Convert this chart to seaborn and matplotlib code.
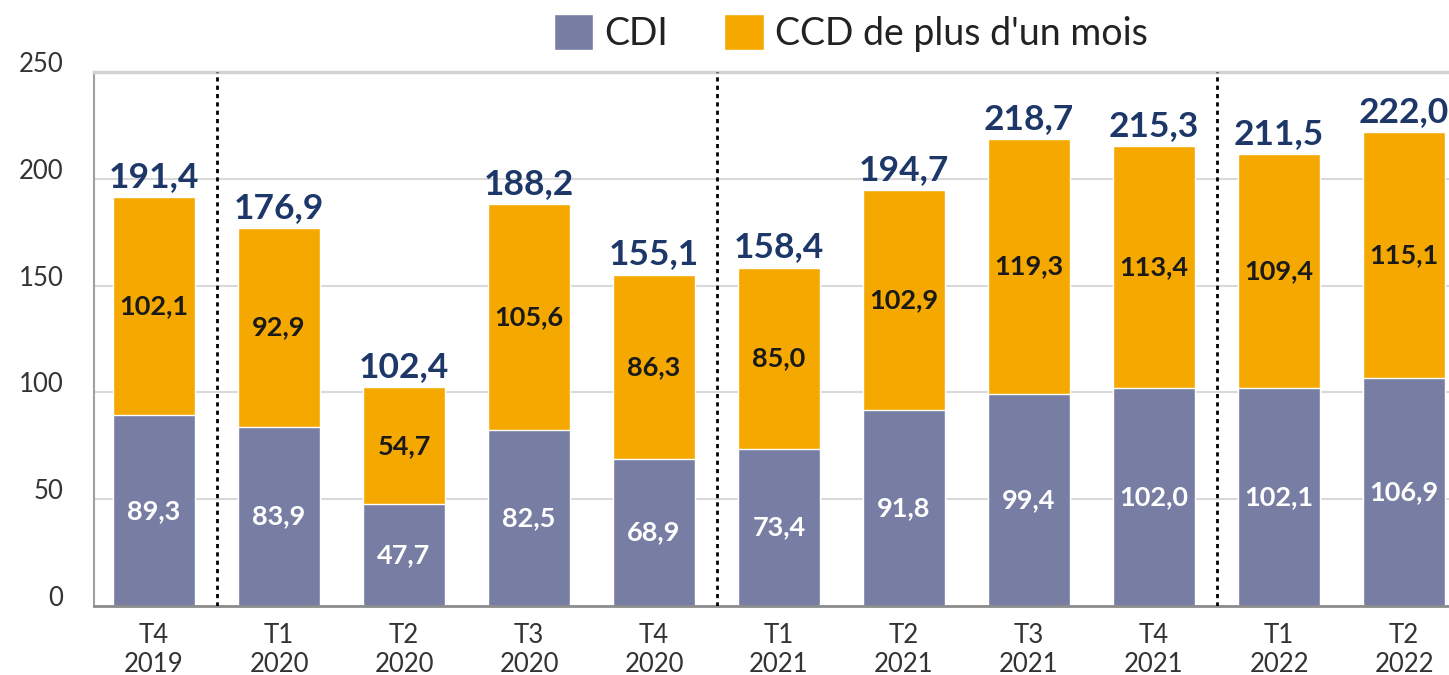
import matplotlib
matplotlib.use("Agg")
import matplotlib.pyplot as plt
import matplotlib.transforms as mtransforms
import seaborn as sns
import pandas as pd
from matplotlib.patches import Patch

trimestres = ["T4\n2019", "T1\n2020", "T2\n2020", "T3\n2020", "T4\n2020",
              "T1\n2021", "T2\n2021", "T3\n2021", "T4\n2021", "T1\n2022", "T2\n2022"]
cdi = [89.3, 83.9, 47.7, 82.5, 68.9, 73.4, 91.8, 99.4, 102.0, 102.1, 106.9]
ccd = [102.1, 92.9, 54.7, 105.6, 86.3, 85.0, 102.9, 119.3, 113.4, 109.4, 115.1]
totaux = [191.4, 176.9, 102.4, 188.2, 155.1, 158.4, 194.7, 218.7, 215.3, 211.5, 222.0]
separations = [0.5, 4.5, 8.5]

COUL_CDI = "#777da3"
COUL_CCD = "#f5a800"
BLEU = "#1c3768"

def fmt(v):
    return f"{v:.1f}".replace(".", ",")

df = pd.DataFrame({"trimestre": trimestres, "cdi": cdi, "ccd": ccd})
df["cumul"] = df["cdi"] + df["ccd"]

sns.set_style("white")
plt.rcParams["font.family"] = ["Lato", "DejaVu Sans"]

fig = plt.figure(figsize=(14.49, 6.75), dpi=100)
ax = fig.add_axes([0.0649, 0.1022, 0.9351, 0.7911])

larg = 0.656
sns.barplot(data=df, x="trimestre", y="cumul", color=COUL_CCD, width=larg,
            saturation=1, ax=ax)
sns.barplot(data=df, x="trimestre", y="cdi", color=COUL_CDI, width=larg,
            saturation=1, ax=ax)

for i in range(len(trimestres)):
    ax.text(i, cdi[i] / 2, fmt(cdi[i]), ha="center", va="center",
            color="white", fontsize=19.5, fontweight="bold")
    ax.text(i, cdi[i] + ccd[i] / 2, fmt(ccd[i]), ha="center", va="center",
            color="#1a1a1a", fontsize=19.5, fontweight="bold")
    ax.text(i, df["cumul"][i] + 2, fmt(totaux[i]), ha="center", va="bottom",
            color=BLEU, fontsize=25.5, fontweight="bold")

for s in separations:
    ax.axvline(s, color="black", linestyle=(0, (1.5, 1.5)), linewidth=2, zorder=3)

ax.set_xlim(-0.48, 10.36)
ax.set_ylim(0, 250)
ax.set_yticks([0, 50, 100, 150, 200, 250])
ax.yaxis.grid(True, color="#d9d9d9", linewidth=1.5)
ax.set_axisbelow(True)
ax.set_xlabel("")
ax.set_ylabel("")
ax.tick_params(axis="y", length=0, pad=22, labelsize=18.5, labelcolor="#333333")
ax.tick_params(axis="x", length=0, pad=12, labelsize=18.5, labelcolor="#333333")
for lab in ax.get_xticklabels():
    lab.set_linespacing(1.2)

# les libellés de l'axe y sont un peu au-dessus des lignes
decalage = mtransforms.ScaledTranslation(0, 0.10, fig.dpi_scale_trans)
for lab in ax.get_yticklabels():
    lab.set_transform(lab.get_transform() + decalage)

ax.spines["right"].set_visible(False)
ax.spines["top"].set_color("#d3d3d3")
ax.spines["top"].set_linewidth(2.5)
ax.spines["left"].set_color("#a0a0a0")
ax.spines["left"].set_linewidth(1.5)
ax.spines["bottom"].set_color("#8c8c8c")
ax.spines["bottom"].set_linewidth(2)

handles = [Patch(facecolor=COUL_CDI, label="CDI"),
           Patch(facecolor=COUL_CCD, label="CCD de plus d'un mois")]
fig.legend(handles=handles, loc="center", bbox_to_anchor=(0.587, 0.951), ncol=2,
           frameon=False, fontsize=27, handlelength=1.05, handleheight=1.1,
           handletextpad=0.3, columnspacing=1.5, labelcolor="#222222")

fig.savefig("out.png", dpi=100)
